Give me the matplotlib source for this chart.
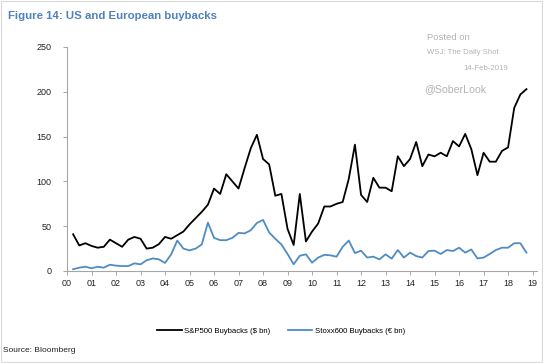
import matplotlib
matplotlib.use("Agg")
import matplotlib.pyplot as plt
import numpy as np
import pandas as pd
from matplotlib.patches import Rectangle

plt.rcParams["font.family"] = ["Liberation Sans", "DejaVu Sans"]

# Quarterly buybacks, 2000Q1 .. 2018Q3
QUARTERS = pd.period_range("2000Q1", "2018Q3", freq="Q")
SP500 = [
    41, 28.5, 31, 28, 26, 27, 35, 31, 27, 35, 38, 36,
    25, 26, 30, 38, 36, 40, 44, 52, 59, 66, 74, 92,
    86, 108, 100, 92, 115, 137, 152, 125, 119, 84, 86, 47,
    29, 86, 33, 44, 53, 72, 72, 75, 77, 103, 141, 85,
    77, 104, 93, 93, 89, 128, 117, 125, 144, 117, 130, 128,
    132, 128, 145, 139, 153, 136, 107, 132, 122, 122, 134, 138,
    182, 197, 203,
]
STOXX600 = [
    2, 3.7, 4.8, 3, 4.8, 3.7, 7, 6, 5.5, 5.5, 8.5, 7.4,
    12, 14, 13, 9, 18.5, 34, 25, 23, 25, 29.6, 54, 37,
    34.4, 34.4, 37, 42.5, 42, 45.5, 53.6, 57, 43, 36, 29.6, 19,
    7.5, 17, 18.6, 9.3, 15, 18, 17.5, 16, 27, 34, 20, 22.7,
    15, 16, 13, 18.6, 13.8, 23.4, 15, 20.5, 16.7, 15, 22.3, 22.7,
    19, 23.4, 22.3, 26, 20.5, 24, 14, 15, 19, 23.4, 26, 26,
    31, 31, 20.5,
]
YEARS = list(range(2000, 2020))
YEAR_LABELS = [f"{y % 100:02d}" for y in YEARS]
Y_TICKS = [0, 50, 100, 150, 200, 250]

# quarter-end as decimal year
x = np.array([p.year + p.quarter / 4.0 for p in QUARTERS])

fig = plt.figure(figsize=(5.44, 3.63), dpi=100)
fig.patch.set_facecolor("white")
fig.patches.append(Rectangle((0.002, 0.003), 0.995, 0.993, transform=fig.transFigure,
                             fill=False, edgecolor="#d9d9d9", lw=0.8))

ax = fig.add_axes([67 / 544, (363 - 271) / 363, 470 / 544, 224 / 363])
ax.plot(x, SP500, color="black", lw=1.3, label="S&P500 Buybacks ($ bn)")
ax.plot(x, STOXX600, color="#4f8cc4", lw=1.3, label="Stoxx600 Buybacks (\u20ac bn)")

ax.set_xlim(2000, 2019.18)
ax.set_ylim(0, 250)
ax.set_xticks(YEARS)
ax.set_xticklabels(YEAR_LABELS)
ax.set_yticks(Y_TICKS)
for side in ("top", "right"):
    ax.spines[side].set_visible(False)
for side in ("left", "bottom"):
    ax.spines[side].set_color("#a6a6a6")
    ax.spines[side].set_linewidth(0.8)
ax.tick_params(axis="both", colors="#a6a6a6", labelcolor="#222222",
               labelsize=6.5, length=3, width=0.7)
ax.tick_params(axis="y", pad=8)
ax.tick_params(axis="x", pad=3)

ax.legend(loc="center", bbox_to_anchor=(281 / 544, 1 - 331 / 363), bbox_transform=fig.transFigure,
          ncol=2, frameon=False, fontsize=5.6, handlelength=3.2, handletextpad=0.3,
          columnspacing=2.2)

fig.text(8 / 544, 1 - 16 / 363, "Figure 14: US and European buybacks", color="#4f81bd",
         fontsize=8.2, fontweight="bold", ha="left", va="center")
fig.text(3 / 544, 1 - 350 / 363, "Source: Bloomberg", color="#222222", fontsize=6,
         ha="left", va="center")

wm = "#b3b3b3"
fig.text(427 / 544, 1 - 37 / 363, "Posted on", color=wm, fontsize=6.8, ha="left", va="center")
fig.text(427 / 544, 1 - 53 / 363, "WSJ: The Daily Shot", color=wm, fontsize=5.6, ha="left", va="center")
fig.text(508 / 544, 1 - 69 / 363, "14-Feb-2019", color=wm, fontsize=5.6, ha="right", va="center")
fig.text(424 / 544, 1 - 89 / 363, "@SoberLook", color=wm, fontsize=7.6, ha="left", va="center")

fig.savefig("out.png", dpi=100)
